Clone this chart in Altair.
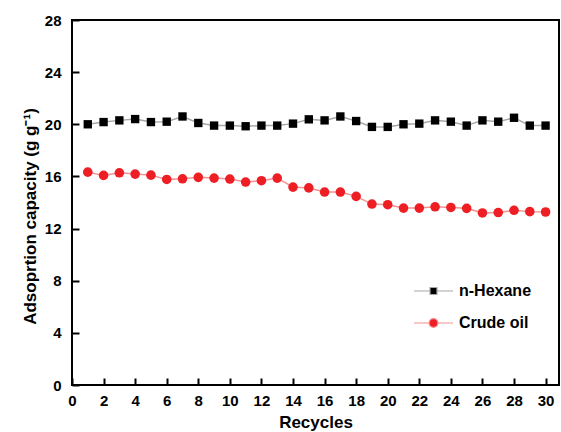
import altair as alt
import pandas as pd

recycles = list(range(1, 31))
hexane = [20.0, 20.17, 20.3, 20.4, 20.17, 20.2, 20.6, 20.1, 19.9, 19.9,
          19.85, 19.9, 19.9, 20.05, 20.38, 20.3, 20.6, 20.25, 19.8, 19.8,
          20.0, 20.05, 20.3, 20.2, 19.9, 20.3, 20.2, 20.5, 19.9, 19.9]
crude = [16.33, 16.08, 16.28, 16.18, 16.1, 15.77, 15.82, 15.93, 15.87, 15.8,
         15.57, 15.67, 15.87, 15.18, 15.12, 14.8, 14.8, 14.47, 13.88, 13.83,
         13.57, 13.57, 13.67, 13.62, 13.55, 13.2, 13.23, 13.4, 13.3, 13.27]
series_names = ["n-Hexane", "Crude oil"]
x_ticks = list(range(0, 31, 2))
y_ticks = list(range(0, 29, 4))

df = pd.DataFrame({
    "Recycles": recycles * 2,
    "value": hexane + crude,
    "series": [series_names[0]] * 30 + [series_names[1]] * 30,
})

line_colors = ["#a8a8a8", "#f49090"]
marker_colors = ["#000000", "#ee1f24"]
marker_shapes = ["square", "circle"]
marker_sizes = [70, 92]
legend_paths = [
    "M-0.975,0H-0.175M0.175,0H0.975M-0.175,-0.175H0.175V0.175H-0.175Z",
    "M-0.975,0H-0.22M0.22,0H0.975M-0.22,0A0.22,0.22 0 1,1 0.22,0A0.22,0.22 0 1,1 -0.22,0Z",
]

FONT = "Liberation Sans"

x_enc = alt.X("Recycles:Q",
              scale=alt.Scale(domain=[0, 30.85], nice=False, zero=False),
              axis=alt.Axis(values=x_ticks, title="Recycles", grid=False, domain=False,
                            offset=-7, tickSize=7, tickWidth=2, tickColor="black",
                            labelPadding=8, labelFont=FONT, labelFontSize=15,
                            labelFontWeight="bold", labelColor="black", labelFlush=False,
                            titleFont=FONT, titleFontSize=17, titleFontWeight="bold",
                            titleColor="black", titlePadding=6))
y_enc = alt.Y("value:Q",
              scale=alt.Scale(domain=[0, 28], nice=False),
              axis=alt.Axis(values=y_ticks, title="Adsoprtion capacity (g g\u207b\u00b9)",
                            grid=False, domain=False, offset=-7, tickSize=7, tickWidth=2,
                            tickColor="black", labelPadding=11, labelFont=FONT,
                            labelFontSize=15, labelFontWeight="bold", labelColor="black",
                            labelFlush=False, titleFont=FONT, titleFontSize=17,
                            titleFontWeight="bold", titleColor="black", titlePadding=5,
                            titleY=196))

base = alt.Chart(df)

layers = []
for i, name in enumerate(series_names):
    sub = base.transform_filter(alt.datum.series == name)
    layers.append(sub.mark_line(strokeWidth=1.5, color=line_colors[i]).encode(x=x_enc, y=y_enc))
for i, name in enumerate(series_names):
    sub = base.transform_filter(alt.datum.series == name)
    layers.append(sub.mark_point(filled=True, opacity=1, shape=marker_shapes[i],
                                 size=marker_sizes[i], color=marker_colors[i],
                                 strokeWidth=0).encode(x=x_enc, y=y_enc))

leg = alt.Legend(title=None, orient="none", legendX=340.5, legendY=250, padding=0,
                 symbolSize=1600, symbolStrokeWidth=1.2, labelOffset=4.5, rowPadding=3,
                 labelFont=FONT, labelFontSize=16, labelFontWeight="bold",
                 labelColor="black", symbolOpacity=1)

legend_layer = base.mark_point(filled=True, size=1600).encode(
    x=x_enc, y=y_enc,
    shape=alt.Shape("series:N", scale=alt.Scale(domain=series_names, range=legend_paths),
                    legend=leg),
    fill=alt.Fill("series:N", scale=alt.Scale(domain=series_names, range=marker_colors),
                  legend=leg),
    stroke=alt.Stroke("series:N", scale=alt.Scale(domain=series_names, range=line_colors),
                      legend=leg),
    opacity=alt.value(0),
)
layers.append(legend_layer)

chart = alt.layer(*layers).properties(
    width=487, height=365,
    autosize=alt.AutoSizeParams(type="none"),
    padding={"left": 72, "top": 20, "right": 2, "bottom": 47},
    background="white",
).configure_view(stroke="black", strokeWidth=2)

chart.save("out.html", embed_options={"renderer": "svg", "actions": False})
